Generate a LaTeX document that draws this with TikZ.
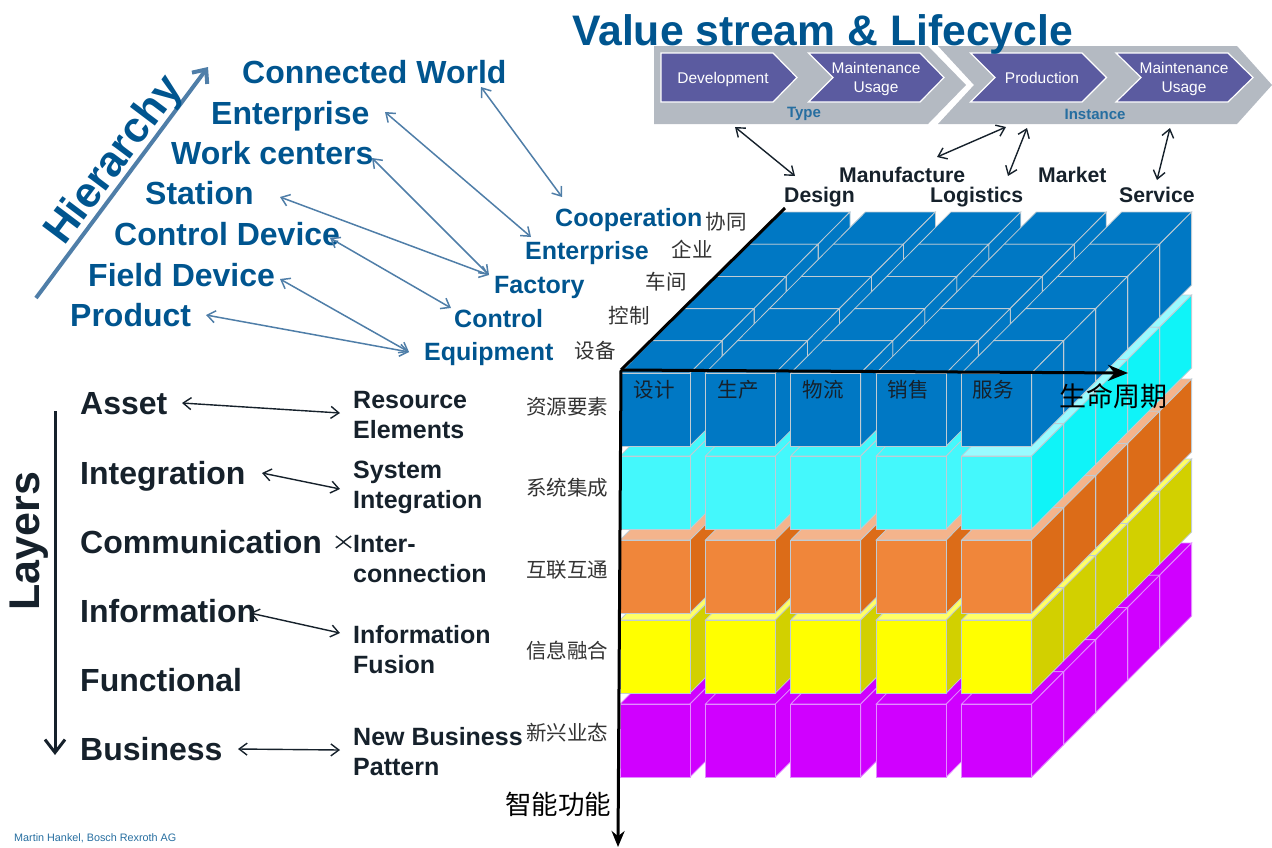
\documentclass[tikz,border=0pt]{standalone}
\usepackage{fontspec}
\setmainfont{Liberation Sans}
\newfontfamily\cjkfont{Noto Sans CJK SC}
\usetikzlibrary{arrows.meta}
\definecolor{bluetxt}{HTML}{00558F}
\definecolor{darktxt}{HTML}{16212B}
\definecolor{bluearr}{HTML}{4F7EA8}
\definecolor{cjkgrey}{HTML}{333333}
\definecolor{bandgrey}{HTML}{B4BAC2}
\definecolor{chevpurple}{HTML}{5B5BA0}
\definecolor{edgegrey}{HTML}{C0CCD4}
\definecolor{edgepink}{HTML}{E28CFF}
\definecolor{bluef}{HTML}{0078C4}
\definecolor{cyanf}{HTML}{44F8FC}
\definecolor{cyant}{HTML}{99FBFF}
\definecolor{cyans}{HTML}{0FF4F8}
\definecolor{orangef}{HTML}{F0863A}
\definecolor{oranget}{HTML}{F4B48C}
\definecolor{oranges}{HTML}{DC6C18}
\definecolor{yellowf}{HTML}{FFFF00}
\definecolor{yellowt}{HTML}{FFFF66}
\definecolor{yellows}{HTML}{D2D000}
\definecolor{magf}{HTML}{D000FF}
\tikzset{
  hiertxt/.style={anchor=west,inner sep=0pt,text=bluetxt,font=\bfseries\fontsize{32}{36}\selectfont,text height=23pt,text depth=0pt},
  levtxt/.style={anchor=west,inner sep=0pt,text=bluetxt,font=\bfseries\fontsize{25}{30}\selectfont,text height=18pt,text depth=0pt},
  laytxt/.style={anchor=west,inner sep=0pt,text=darktxt,font=\bfseries\fontsize{32}{36}\selectfont,text height=23pt,text depth=0pt},
  dualtxt/.style={anchor=west,inner sep=0pt,text=darktxt,align=left,font=\bfseries\fontsize{25}{30}\selectfont},
  valtxt/.style={anchor=west,inner sep=0pt,text=darktxt,font=\bfseries\fontsize{21.2}{25}\selectfont,text height=15.2pt,text depth=0pt},
  chevtxt/.style={anchor=center,inner sep=0pt,text=white,align=center,font=\fontsize{15.5}{19}\selectfont},
  bandtxt/.style={anchor=center,inner sep=0pt,text=bluetxt!85!white,font=\bfseries\fontsize{15}{18}\selectfont},
  cjklab/.style={anchor=center,inner sep=0pt,text=cjkgrey,font=\cjkfont\fontsize{20.5}{24}\selectfont},
  cjkbig/.style={anchor=center,inner sep=0pt,text=black,font=\cjkfont\fontsize{27}{30}\selectfont},
  bluelink/.style={draw=bluearr,line width=1.5pt,{Straight Barb[length=8pt,width=12pt]}-{Straight Barb[length=8pt,width=12pt]}},
  blacklink/.style={draw=darktxt,line width=1.4pt,{Straight Barb[length=8pt,width=12pt]}-{Straight Barb[length=8pt,width=12pt]}},
  axisline/.style={draw=black,line width=3pt},
  greyband/.style={fill=bandgrey,draw=none},
  purplechev/.style={fill=chevpurple,draw=white,line width=1.2pt},
}
% front-left x, top y, height, front, top, side, edge
\newcommand{\cubebox}[7]{%
  \pgfmathsetmacro{\xa}{#1}\pgfmathsetmacro{\xb}{#1+70}%
  \pgfmathsetmacro{\ya}{#2}\pgfmathsetmacro{\yb}{#2+#3}%
  \pgfmathsetmacro{\xc}{\xa+32}\pgfmathsetmacro{\xd}{\xb+32}%
  \pgfmathsetmacro{\yc}{\ya-32.2}\pgfmathsetmacro{\yd}{\yb-32.2}%
  \fill[#5,draw=#7,line width=.8pt] (\xa,\ya)--(\xb,\ya)--(\xd,\yc)--(\xc,\yc)--cycle;
  \fill[#6,draw=#7,line width=.8pt] (\xb,\ya)--(\xd,\yc)--(\xd,\yd)--(\xb,\yb)--cycle;
  \fill[#4,draw=#7,line width=.8pt] (\xa,\ya) rectangle (\xb,\yb);
}
% top y, front, top inner, side inner, top outer, side outer, edge
\newcommand{\cubelayer}[7]{%
  \foreach \r in {4,3,2,1,0}{%
    \foreach \c in {0,1,2,3,4}{%
      \pgfmathsetmacro{\px}{620+85.4*\c+32*\r}%
      \pgfmathsetmacro{\py}{#1-32.2*\r}%
      \ifnum\c=4
        \cubebox{\px}{\py}{73}{#2}{#5}{#6}{#7}
      \else
        \cubebox{\px}{\py}{73}{#2}{#3}{#4}{#7}
      \fi
    }%
  }%
}
\begin{document}
\begin{tikzpicture}[x=1pt,y=-1pt]
\useasboundingbox (0,0) rectangle (1272,847);
% cube
\cubelayer{704}{magf}{magf}{magf}{magf}{magf}{edgepink}
\cubelayer{620}{yellowf}{yellowt}{yellows}{yellowt}{yellows}{edgegrey}
\cubelayer{540}{orangef}{oranget}{oranges}{oranget}{oranges}{edgegrey}
\cubelayer{456}{cyanf}{cyanf}{cyanf}{cyant}{cyans}{edgegrey}
\cubelayer{373}{bluef}{bluef}{bluef}{bluef}{bluef}{edgegrey}
% axes
\coordinate (orig) at (621,370);
\coordinate (axdown) at (618,847);
\coordinate (axright) at (1128,373);
\coordinate (axback) at (785,208);
\draw[axisline,-{Stealth[length=16pt,width=13pt]}] (orig) -- (axdown);
\draw[axisline,-{Stealth[length=20pt,width=16pt]}] (orig) -- (axright);
\draw[axisline] (orig) -- (axback);
% chevrons
\fill[greyband] (654,46)--(928,46)--(966,85)--(928,124)--(654,124)--cycle;
\fill[greyband] (938,46)--(1237,46)--(1272,85)--(1237,124)--(938,124)--(974,85)--cycle;
\filldraw[purplechev] (661,53)--(773,53)--(797,77.5)--(773,102)--(661,102)--cycle;
\filldraw[purplechev] (808.5,53)--(920,53)--(944,77.5)--(920,102)--(808.5,102)--(833,77.5)--cycle;
\filldraw[purplechev] (970.5,53)--(1082,53)--(1106.5,77.5)--(1082,102)--(970.5,102)--(995,77.5)--cycle;
\filldraw[purplechev] (1116,53)--(1228,53)--(1253,77.5)--(1228,102)--(1116,102)--(1141,77.5)--cycle;
\node[chevtxt] (cdev) at (723,79) {Development};
\node[chevtxt] (cmu1) at (876,78.5) {Maintenance\\Usage};
\node[chevtxt] (cpro) at (1042,78) {Production};
\node[chevtxt] (cmu2) at (1184,78.5) {Maintenance\\Usage};
\node[bandtxt] (ntype) at (804,114) {Type};
\node[bandtxt] (ninst) at (1095,114) {Instance};
% title
\node[anchor=west,inner sep=0pt,text=bluetxt,font=\bfseries\fontsize{42.7}{48}\selectfont] (title) at (572,34) {Value stream \& Lifecycle};
% value stream
\node[valtxt] (vdes) at (784,195) {Design};
\node[valtxt] (vman) at (839,175) {Manufacture};
\node[valtxt] (vlog) at (930,195) {Logistics};
\node[valtxt] (vmar) at (1038,175) {Market};
\node[valtxt] (vser) at (1119,195) {Service};
\draw[blacklink] ([shift={(-69,13)}]ntype.center) -- ([shift={(11,-19)}]vdes.west);
\draw[blacklink] ([shift={(-89,13)}]ninst.center) -- ([shift={(98,-18)}]vman.west);
\draw[blacklink] ([shift={(-68,14)}]ninst.center) -- ([shift={(78,-19)}]vlog.west);
\draw[blacklink] ([shift={(75,14)}]ninst.center) -- ([shift={(38,-15)}]vser.west);
% hierarchy
\coordinate (hstart) at (36,298);
\coordinate (hend) at (208,67);
\draw[draw=bluearr,line width=4pt,-{Straight Barb[length=11pt,width=19pt]}] (hstart) -- (hend);
\node[inner sep=0pt,rotate=53,text=bluetxt,font=\bfseries\fontsize{43}{47}\selectfont] (hier) at (115,161) {Hierarchy};
\node[hiertxt] (h1) at (242,72) {Connected World};
\node[hiertxt] (h2) at (211,113) {Enterprise};
\node[hiertxt] (h3) at (171,153) {Work centers};
\node[hiertxt] (h4) at (145,193) {Station};
\node[hiertxt] (h5) at (114,234) {Control Device};
\node[hiertxt] (h6) at (88,275) {Field Device};
\node[hiertxt] (h7) at (70,315) {Product};
\node[levtxt] (l1) at (555,217) {Cooperation};
\node[levtxt] (l2) at (525,250) {Enterprise};
\node[levtxt] (l3) at (494,284) {Factory};
\node[levtxt] (l4) at (454,318) {Control};
\node[levtxt] (l5) at (424,351) {Equipment};
\draw[bluelink] ([shift={(239,15)}]h1.west) -- ([shift={(7,-20)}]l1.west);
\draw[bluelink] ([shift={(174,-1)}]h2.west) -- ([shift={(6,-13)}]l2.west);
\draw[bluelink] ([shift={(201,5)}]h3.west) -- ([shift={(-5,-9)}]l3.west);
\draw[bluelink] ([shift={(135,4)}]h4.west) -- ([shift={(-5,-9)}]l3.west);
\draw[bluelink] ([shift={(216,4)}]h5.west) -- ([shift={(-3,-10)}]l4.west);
\draw[bluelink] ([shift={(192,4)}]h6.west) -- ([shift={(-15,1)}]l5.west);
\draw[bluelink] ([shift={(136,0)}]h7.west) -- ([shift={(-15,1)}]l5.west);
% level cjk
\node[cjklab] (c1) at (726,222) {协同};
\node[cjklab] (c2) at (692,249) {企业};
\node[cjklab] (c3) at (666,282) {车间};
\node[cjklab] (c4) at (629,316) {控制};
\node[cjklab] (c5) at (595,351) {设备};
% column cjk
\node[cjklab,text=darktxt] (d1) at (654,390) {设计};
\node[cjklab,text=darktxt] (d2) at (738,390) {生产};
\node[cjklab,text=darktxt] (d3) at (823,390) {物流};
\node[cjklab,text=darktxt] (d4) at (908,390) {销售};
\node[cjklab,text=darktxt] (d5) at (993,390) {服务};
\node[cjkbig] (life) at (1113,396) {生命周期};
% layer cjk
\node[cjklab] (e1) at (567,407) {资源要素};
\node[cjklab] (e2) at (567,488) {系统集成};
\node[cjklab] (e3) at (567,570) {互联互通};
\node[cjklab] (e4) at (567,651) {信息融合};
\node[cjklab] (e5) at (567,733) {新兴业态};
\node[cjkbig,font=\cjkfont\fontsize{26.5}{30}\selectfont] (wise) at (558,804) {智能功能};
% layers
\coordinate (lstart) at (55,411);
\coordinate (lend) at (55,755);
\draw[draw=darktxt,line width=3pt,-{Straight Barb[length=13pt,width=20pt]}] (lstart) -- (lend);
\node[inner sep=0pt,rotate=90,text=darktxt,font=\bfseries\fontsize{43}{48}\selectfont] (layers) at (29,541) {Layers};
\node[laytxt] (a1) at (80,403) {Asset};
\node[laytxt] (a2) at (80,473) {Integration};
\node[laytxt] (a3) at (80,542) {Communication};
\node[laytxt] (a4) at (80,611) {Information};
\node[laytxt] (a5) at (80,680) {Functional};
\node[laytxt] (a6) at (80,749) {Business};
\node[dualtxt] (b1) at (353,415) {Resource\\Elements};
\node[dualtxt] (b2) at (353,487) {System\\Integration};
\node[dualtxt] (b3) at (353,559) {Inter-\\connection};
\node[dualtxt] (b4) at (353,650) {Information\\Fusion};
\node[dualtxt] (b6) at (353,752) {New Business\\Pattern};
\draw[blacklink] ([shift={(102,0)}]a1.west) -- ([shift={(-13,-2)}]b1.west);
\draw[blacklink] ([shift={(182,0)}]a2.west) -- ([shift={(-13,2)}]b2.west);
\draw[blacklink] ([shift={(265,0)}]a3.west) -- ([shift={(-11,-17)}]b3.west);
\draw[blacklink] ([shift={(170,2)}]a4.west) -- ([shift={(-13,-17)}]b4.west);
\draw[blacklink] ([shift={(158,0)}]a6.west) -- ([shift={(-13,-2)}]b6.west);
% credit
\node[anchor=west,inner sep=0pt,text=bluetxt!85!white,font=\fontsize{10.8}{12}\selectfont] (credit) at (14,838) {Martin Hankel, Bosch Rexroth AG};
\end{tikzpicture}
\end{document}
